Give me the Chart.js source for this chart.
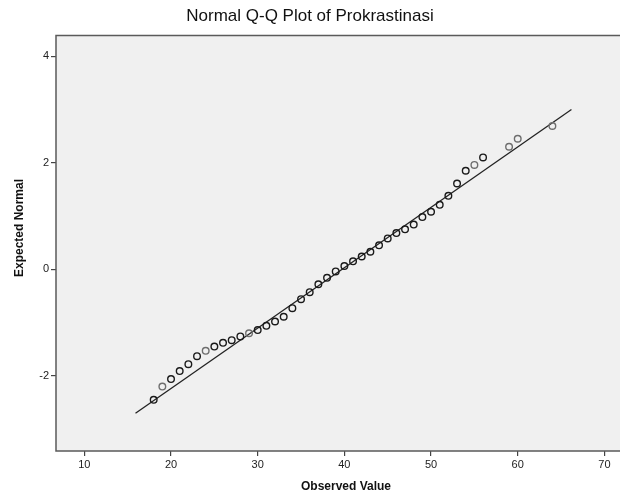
<!DOCTYPE html>
<html>
<head>
<meta charset="utf-8">
<script src="https://cdn.jsdelivr.net/npm/chart.js@4/dist/chart.umd.min.js"></script>
<style>
  html, body { margin: 0; padding: 0; background: #fff; overflow: hidden; }
  #wrap { width: 620px; height: 499px; }
</style>
</head>
<body>
<div id="wrap"><canvas id="qqChart"></canvas></div>
<script>
// Observed values and their expected normal scores
const observed = [18, 19, 20, 21, 22, 23, 24, 25, 26, 27, 28, 29, 30, 31, 32, 33, 34, 35, 36, 37,
                  38, 39, 40, 41, 42, 43, 44, 45, 46, 47, 48, 49, 50, 51, 52, 53, 54, 55, 56, 59, 60, 64];
const expected = [-2.45, -2.20, -2.06, -1.91, -1.78, -1.63, -1.53, -1.45, -1.38, -1.33, -1.26, -1.20,
                  -1.14, -1.06, -0.98, -0.89, -0.73, -0.56, -0.43, -0.28, -0.16, -0.04, 0.06, 0.15,
                  0.24, 0.33, 0.45, 0.58, 0.68, 0.75, 0.84, 0.98, 1.08, 1.21, 1.38, 1.61, 1.85, 1.96,
                  2.10, 2.30, 2.45, 2.69];
// reference line end points
const lineX = [15.9, 66.2];
const lineY = [-2.70, 3.00];
const xTicks = [10, 20, 30, 40, 50, 60, 70];
const yTicks = [-2, 0, 2, 4];

const lightPoints = [19, 24, 29, 55, 59, 60, 64];  // drawn lighter in the original

const plotFrame = {
    id: 'plotFrame',
    afterLayout(chart) {
        // let the plot run to the right edge of the canvas
        const x = chart.scales.x;
        chart.chartArea.right = chart.width;
        x.right = chart.width;
        x.width = x.right - x.left;
        x.configure();
    },
    beforeDraw(chart) {
        const {ctx, chartArea: a} = chart;
        ctx.save();
        ctx.fillStyle = '#f0f0f0';
        ctx.fillRect(a.left, a.top, a.right - a.left, a.bottom - a.top);
        ctx.restore();
    },
    afterDraw(chart) {
        const {ctx, chartArea: a} = chart;
        ctx.save();
        ctx.strokeStyle = '#5a5a5a';
        ctx.lineWidth = 1.5;
        ctx.beginPath();
        ctx.moveTo(a.right, a.top);
        ctx.lineTo(a.left, a.top);
        ctx.lineTo(a.left, a.bottom);
        ctx.lineTo(a.right, a.bottom);
        ctx.stroke();
        // axis titles
        ctx.fillStyle = '#111';
        ctx.font = 'bold 12px "Liberation Sans", Arial, sans-serif';
        ctx.textAlign = 'center';
        ctx.textBaseline = 'middle';
        ctx.fillText('Observed Value', 346, 487);
        ctx.translate(20, 228);
        ctx.rotate(-Math.PI / 2);
        ctx.fillText('Expected Normal', 0, 0);
        ctx.restore();
    }
};

document.addEventListener('DOMContentLoaded', function () {
    const ctx = document.getElementById('qqChart').getContext('2d');
    const tickOpts = {
        display: true,
        drawOnChartArea: false,
        drawTicks: true,
        tickLength: 5,
        color: '#444',
        lineWidth: 1.2
    };
    new Chart(ctx, {
        type: 'scatter',
        data: {
            datasets: [{
                label: 'Observed',
                data: observed.map((v, i) => ({x: v, y: expected[i]})),
                showLine: false,
                pointRadius: 3.3,
                pointBorderWidth: 1.4,
                pointBackgroundColor: 'rgba(0,0,0,0)',
                pointBorderColor: observed.map(v => lightPoints.includes(v) ? '#6e6e6e' : '#1a1a1a'),
                order: 1
            }, {
                label: 'Line',
                data: lineX.map((v, i) => ({x: v, y: lineY[i]})),
                showLine: true,
                pointRadius: 0,
                borderColor: '#222',
                borderWidth: 1.3,
                order: 2
            }]
        },
        options: {
            responsive: true,
            maintainAspectRatio: false,
            animation: false,
            layout: { padding: 0 },
            plugins: {
                legend: { display: false },
                tooltip: { enabled: false },
                title: {
                    display: true,
                    text: 'Normal Q-Q Plot of Prokrastinasi',
                    color: '#111',
                    font: { family: '"Liberation Sans", Arial, sans-serif', size: 17, weight: 'normal' },
                    padding: { top: 6, bottom: 9 }
                }
            },
            scales: {
                x: {
                    type: 'linear',
                    min: 6.73,
                    max: 71.8,
                    border: { display: false },
                    grid: tickOpts,
                    afterBuildTicks: s => { s.ticks = xTicks.map(v => ({value: v})); },
                    afterFit: s => { s.height = 48; },
                    ticks: {
                        color: '#222',
                        padding: 2,
                        font: { family: '"Liberation Sans", Arial, sans-serif', size: 11 }
                    }
                },
                y: {
                    type: 'linear',
                    min: -3.41,
                    max: 4.39,
                    border: { display: false },
                    grid: tickOpts,
                    afterBuildTicks: s => { s.ticks = yTicks.map(v => ({value: v})); },
                    afterFit: s => { s.width = 56; },
                    ticks: {
                        color: '#222',
                        padding: 2,
                        font: { family: '"Liberation Sans", Arial, sans-serif', size: 11 }
                    }
                }
            }
        },
        plugins: [plotFrame]
    });
});
</script>
</body>
</html>
